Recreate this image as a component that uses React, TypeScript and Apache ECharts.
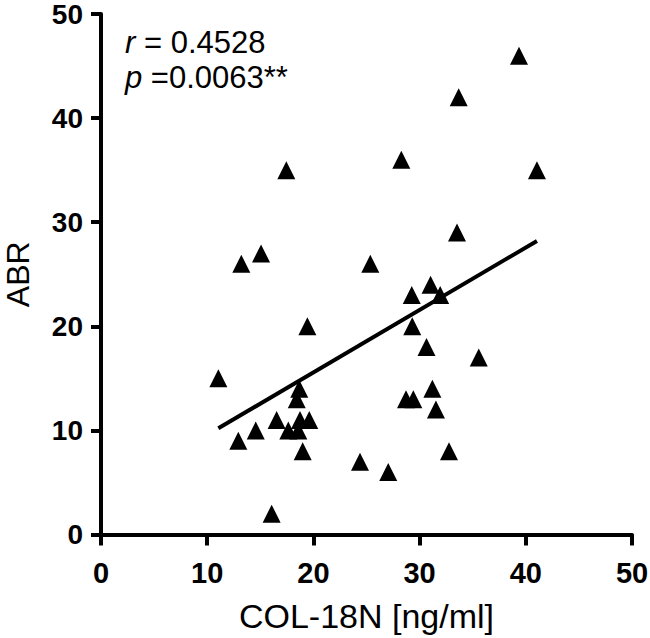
import React, { useEffect, useRef } from "react";
import * as echarts from "echarts";

// COL-18N [ng/ml] (x) vs ABR (y)
const xValues = [
  11.05, 12.93, 13.21, 14.57, 15.07, 16.07, 16.54, 17.45, 17.64, 18.43, 18.67, 18.58,
  18.74, 18.99, 19.43, 19.61, 24.39, 25.36, 27.05, 28.28, 28.72, 29.26, 29.31, 29.41,
  30.65, 31.03, 31.2, 31.54, 31.94, 32.77, 33.52, 33.68, 35.57, 39.36, 41.05,
];
const yValues = [
  15, 9, 26, 10, 27, 2, 11, 35, 10, 13, 14, 10,
  11, 8, 20, 11, 7, 26, 6, 36, 13, 23, 20, 13,
  18, 24, 14, 12, 23, 8, 29, 42, 17, 46, 35,
];
// regression line end points
const lineX = [11.05, 41.05];
const lineY = [10.2, 28.2];

const xTicks = [0, 10, 20, 30, 40, 50];
const yTicks = [0, 10, 20, 30, 40, 50];
const xTitle = "COL-18N [ng/ml]";
const yTitle = "ABR";
const rText = "0.4528";
const pText = "0.0063**";

const FONT = "'Liberation Sans', Arial, Helvetica, sans-serif";

export default function App() {
  const ref = useRef<HTMLDivElement>(null);
  useEffect(() => {
    if (!ref.current) return;
    const chart = echarts.init(ref.current, undefined, { renderer: "svg" });
    const points = xValues.map((x, i) => [x, yValues[i]]);
    const line = lineX.map((x, i) => [x, lineY[i]]);
    chart.setOption({
      animation: false,
      backgroundColor: "#ffffff",
      grid: {
        left: 101,
        right: 18,
        top: 14,
        bottom: 103.5,
        containLabel: false,
        outerBoundsMode: "none",
      },
      xAxis: {
        type: "value",
        min: xTicks[0],
        max: xTicks[xTicks.length - 1],
        interval: 10,
        name: xTitle,
        nameLocation: "middle",
        nameGap: 64,
        nameTextStyle: { fontFamily: FONT, fontSize: 34, color: "#000" },
        axisLine: { show: true, onZero: false, lineStyle: { color: "#000", width: 4 } },
        axisTick: { show: true, length: 11, lineStyle: { color: "#000", width: 4 } },
        axisLabel: { fontFamily: FONT, fontSize: 29, fontWeight: "bold", color: "#000", margin: 24 },
        splitLine: { show: false },
      },
      yAxis: {
        type: "value",
        min: yTicks[0],
        max: yTicks[yTicks.length - 1],
        interval: 10,
        name: yTitle,
        nameLocation: "middle",
        nameGap: 67,
        nameTextStyle: { fontFamily: FONT, fontSize: 32, color: "#000" },
        axisLine: { show: true, onZero: false, lineStyle: { color: "#000", width: 4 } },
        axisTick: { show: true, length: 10, lineStyle: { color: "#000", width: 4 } },
        axisLabel: {
          fontFamily: FONT,
          fontSize: 28,
          fontWeight: "bold",
          color: "#000",
          margin: 18,
        },
        splitLine: { show: false },
      },
      series: [
        {
          type: "line",
          data: line,
          symbol: "none",
          lineStyle: { color: "#000", width: 4 },
          z: 2,
        },
        {
          type: "scatter",
          data: points,
          symbol: "triangle",
          symbolSize: 18,
          itemStyle: { color: "#000", opacity: 1 },
          z: 3,
        },
      ],
      graphic: [
        {
          type: "text",
          left: 125,
          top: 27,
          style: {
            text: "{i|r} = " + rText,
            fontFamily: FONT,
            fontSize: 31,
            fill: "#000",
            rich: { i: { fontStyle: "italic", fontFamily: FONT, fontSize: 31, fill: "#000" } },
          },
        },
        {
          type: "text",
          left: 125,
          top: 62,
          style: {
            text: "{i|p} =" + pText,
            fontFamily: FONT,
            fontSize: 31,
            fill: "#000",
            rich: { i: { fontStyle: "italic", fontFamily: FONT, fontSize: 31, fill: "#000" } },
          },
        },
      ],
    });
    return () => chart.dispose();
  }, []);
  return (
    <div
      ref={ref}
      style={{ position: "fixed", left: 0, top: 0, width: 650, height: 638, background: "#fff" }}
    />
  );
}
